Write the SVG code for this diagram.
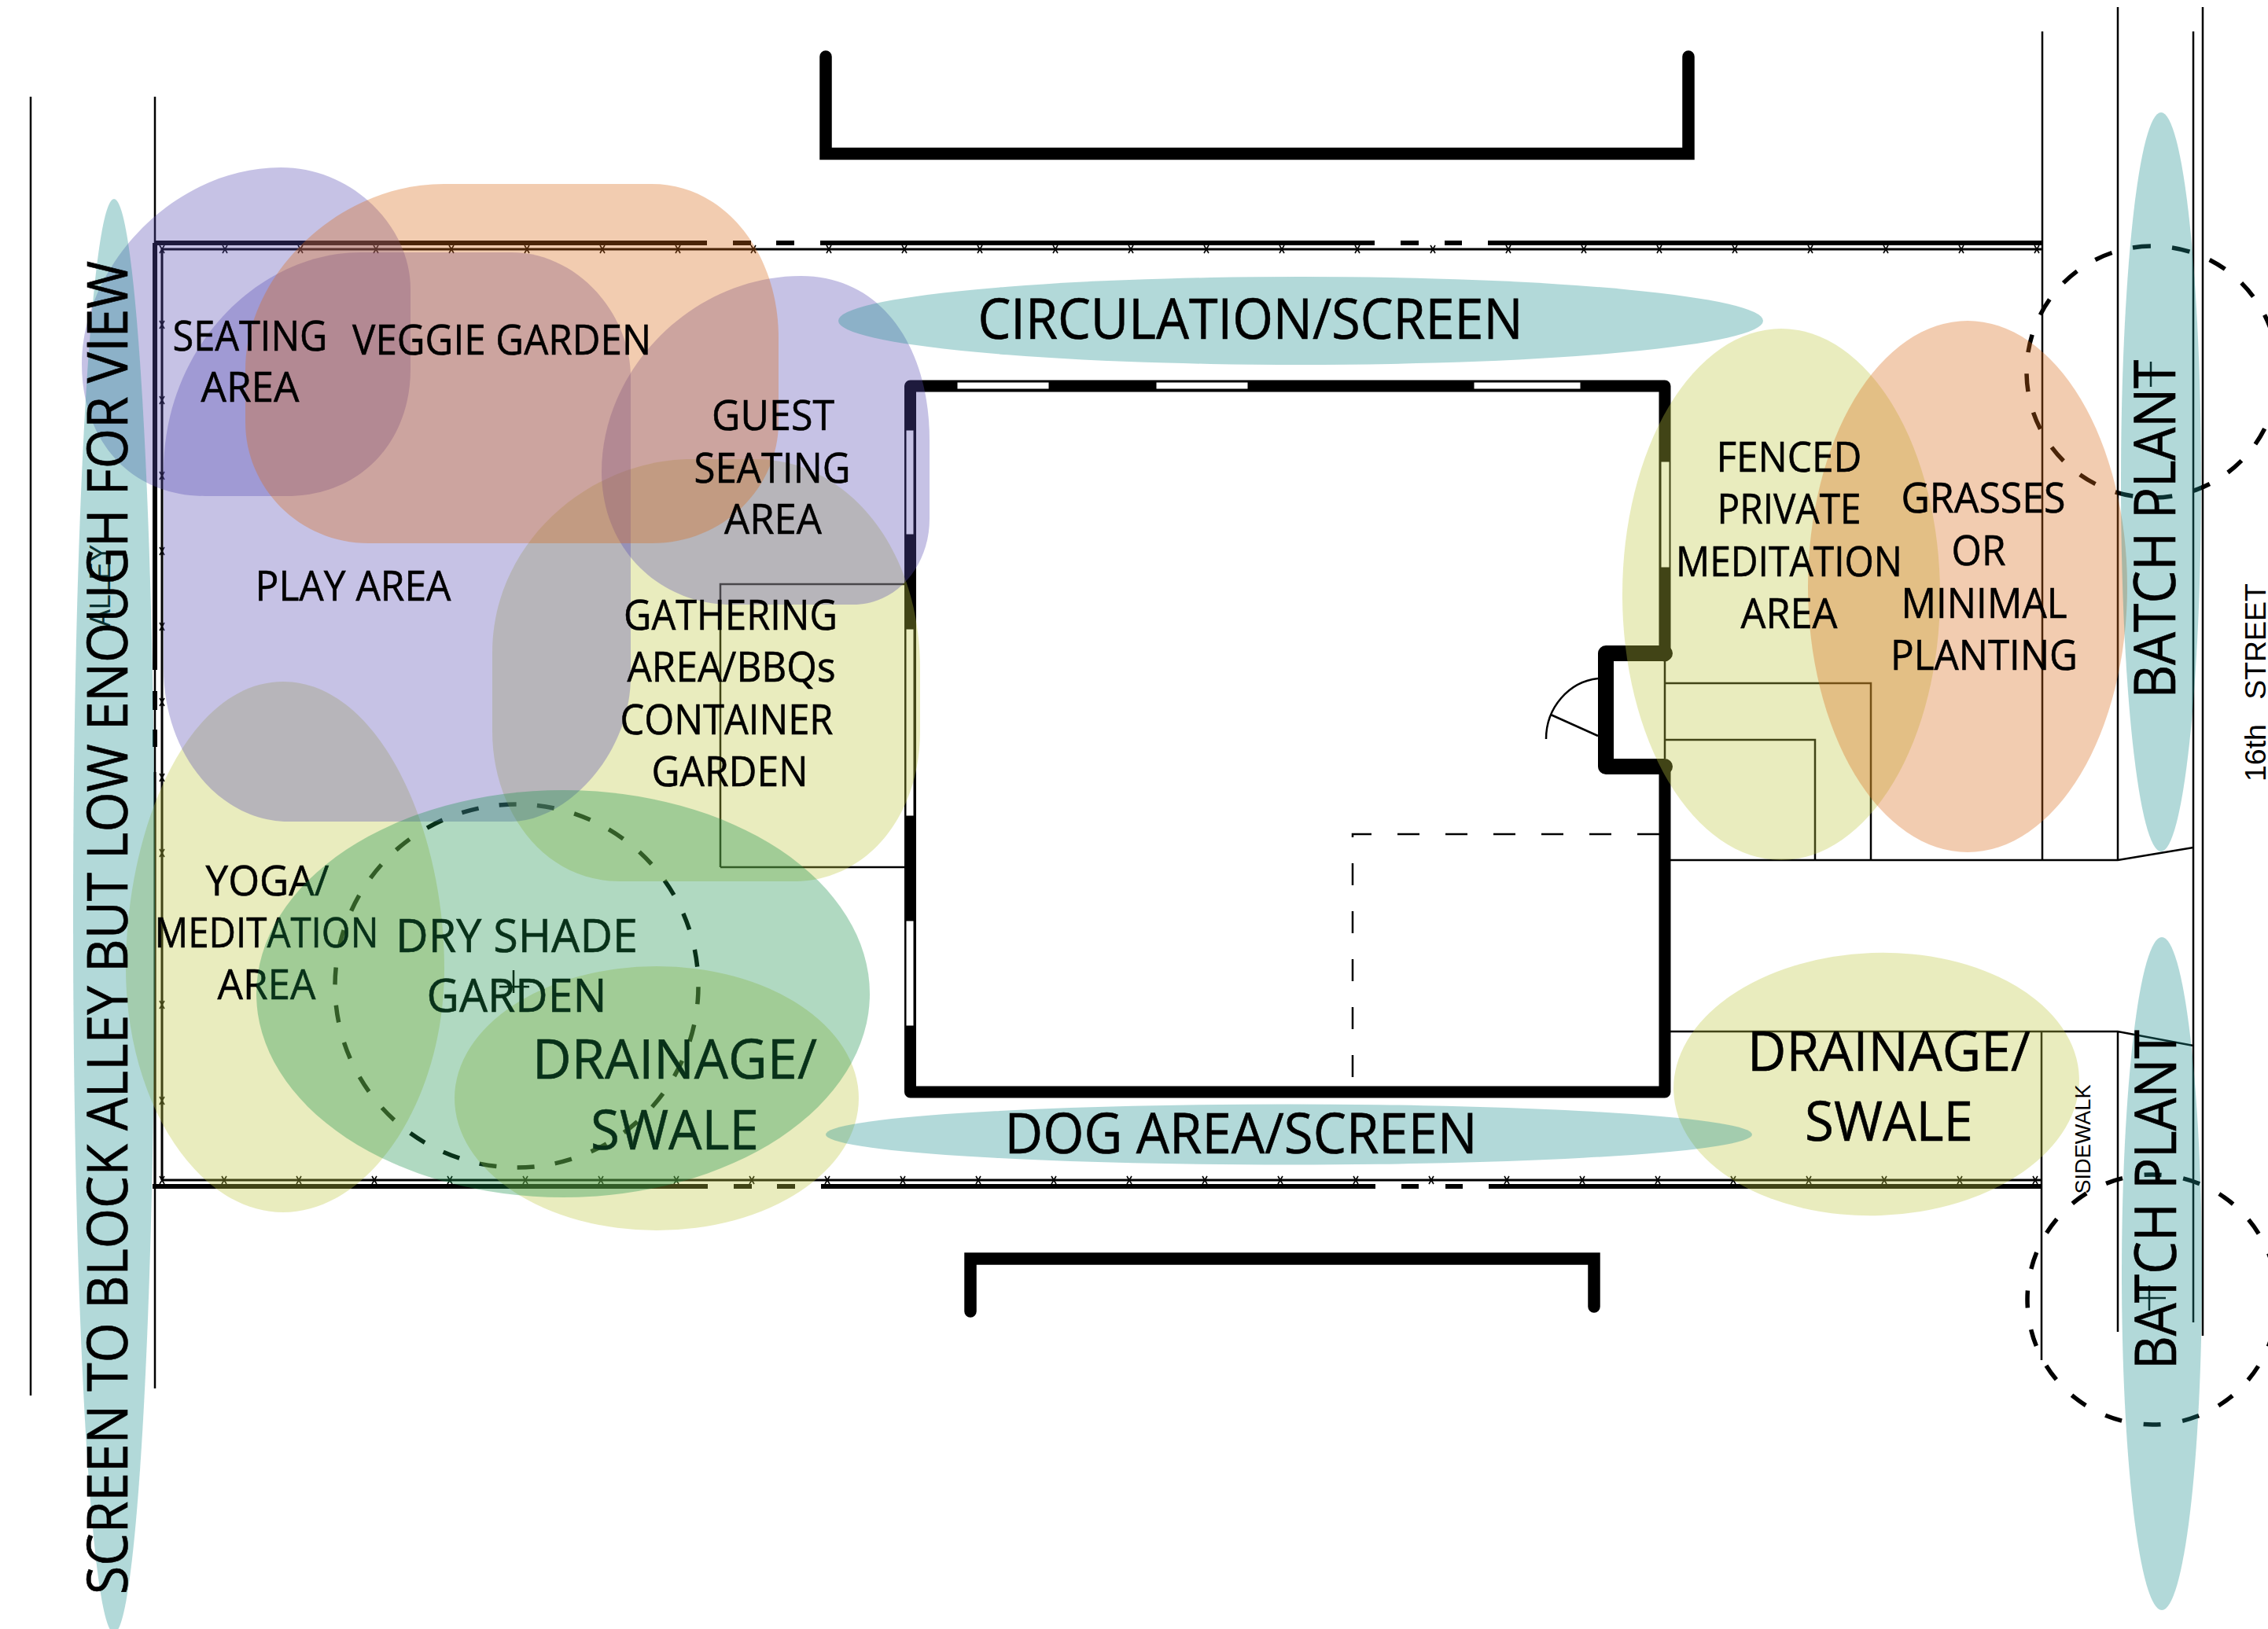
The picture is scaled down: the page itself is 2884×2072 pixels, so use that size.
<svg xmlns="http://www.w3.org/2000/svg" xmlns:xlink="http://www.w3.org/1999/xlink" width="2884" height="2072" viewBox="0 0 2884 2072">
<style>
.l{fill:none;stroke:#000;stroke-width:2.5}
.th{fill:none;stroke:#000;stroke-width:6}
.tn{fill:none;stroke:#000;stroke-width:3}
.wall{fill:none;stroke:#000;stroke-linecap:round;stroke-linejoin:round}
.br{fill:none;stroke:#000;stroke-linecap:round;stroke-linejoin:miter;stroke-width:15.500}
.win{fill:#fff;stroke:#000;stroke-width:1}
.d{fill:none;stroke:#000;stroke-width:5.500}
.tick{fill:none;stroke:#000;stroke-width:1.6}
.y{fill:#bfc841;opacity:.34}
.p{fill:#574bb4;opacity:.34}
.o{fill:#d96a17;opacity:.34}
.c{fill:#1c9090;opacity:.34}
.g{fill:#189049;opacity:.34}
text{font-family:"Open Sans","Noto Sans",sans-serif;fill:#000;text-anchor:middle;stroke:#000;stroke-width:.6}
.s{font-size:53px}.m{font-size:58px}.b{font-size:69px}.x{font-size:72px}
.a{font-family:"Liberation Sans",Arial,sans-serif;stroke:none}
</style>
<defs><path id="t" class="tick" d="M-3-5L3 5M3-5L-3 5"/></defs>
<rect width="2884" height="2072" fill="#fff"/>
<g id="site-lines">
<path class="l" d="M39 123V1775M197 123V1766M2597 40V1094M2693 9V1094M2789 40V1682M2801 9V1699"/>
<path class="l" d="M2124 1094H2693L2789 1078M2124 1312H2693L2789 1330M2596 1312V1730M2693 1312V1694"/>
<path class="l" d="M2117 869H2379V1094M2117 941H2308V1094M916 1103V743H1152M916 1103H1152"/>
<path class="l" d="M2032 936L1972 909M2032 863C1995 867 1966 900 1966 940"/>
<path class="l" stroke-dasharray="28 33" d="M2110 1061H1720V1381"/>
<path class="l" stroke-width="1.5" d="M2716 476H2754M2735 460V492M2716 1651H2754M2733 1635V1667M635 1255H673M653 1234V1263"/>
<text class="a" transform="translate(140 745) rotate(-90)" font-size="36" textLength="105" lengthAdjust="spacingAndGlyphs">ALLEY</text>
</g>
<g id="fence">
<path class="th" d="M197 309H899M932 309H955M987 309H1010M1043 309H1748M1781 309H1804M1837 309H1859M1892 309H2597"/>
<path class="th" d="M194 1509H900M933 1509H956M988 1509H1011M1044 1509H1749M1782 1509H1804M1838 1509H1860M1893 1509H2596"/>
<path class="th" d="M197 309V852M197 879V903M197 928V950"/>
<path class="tn" d="M197 982V1509"/>
<path class="tn" d="M206 1501V317H2597M206 1501H2596"/>
<g id="ticks-top">
<use href="#t" x="206" y="317"/><use href="#t" x="286" y="317"/><use href="#t" x="382" y="317"/><use href="#t" x="478" y="317"/><use href="#t" x="574" y="317"/><use href="#t" x="670" y="317"/><use href="#t" x="766" y="317"/><use href="#t" x="862" y="317"/><use href="#t" x="958" y="317"/><use href="#t" x="1054" y="317"/><use href="#t" x="1150" y="317"/><use href="#t" x="1246" y="317"/><use href="#t" x="1342" y="317"/><use href="#t" x="1438" y="317"/><use href="#t" x="1534" y="317"/><use href="#t" x="1630" y="317"/><use href="#t" x="1726" y="317"/><use href="#t" x="1822" y="317"/><use href="#t" x="1918" y="317"/><use href="#t" x="2014" y="317"/><use href="#t" x="2110" y="317"/><use href="#t" x="2206" y="317"/><use href="#t" x="2302" y="317"/><use href="#t" x="2398" y="317"/><use href="#t" x="2494" y="317"/><use href="#t" x="2590" y="317"/>
</g>
<g id="ticks-bottom">
<use href="#t" x="206" y="1501"/><use href="#t" x="285" y="1501"/><use href="#t" x="380" y="1501"/><use href="#t" x="476" y="1501"/><use href="#t" x="572" y="1501"/><use href="#t" x="668" y="1501"/><use href="#t" x="764" y="1501"/><use href="#t" x="860" y="1501"/><use href="#t" x="956" y="1501"/><use href="#t" x="1052" y="1501"/><use href="#t" x="1148" y="1501"/><use href="#t" x="1244" y="1501"/><use href="#t" x="1340" y="1501"/><use href="#t" x="1436" y="1501"/><use href="#t" x="1532" y="1501"/><use href="#t" x="1628" y="1501"/><use href="#t" x="1724" y="1501"/><use href="#t" x="1820" y="1501"/><use href="#t" x="1916" y="1501"/><use href="#t" x="2012" y="1501"/><use href="#t" x="2108" y="1501"/><use href="#t" x="2204" y="1501"/><use href="#t" x="2300" y="1501"/><use href="#t" x="2396" y="1501"/><use href="#t" x="2492" y="1501"/><use href="#t" x="2588" y="1501"/>
</g>
<g id="ticks-left">
<use href="#t" x="206" y="413"/><use href="#t" x="206" y="509"/><use href="#t" x="206" y="605"/><use href="#t" x="206" y="701"/><use href="#t" x="206" y="797"/><use href="#t" x="206" y="893"/><use href="#t" x="206" y="989"/><use href="#t" x="206" y="1085"/><use href="#t" x="206" y="1278"/><use href="#t" x="206" y="1400"/>
</g>
</g>
<g id="house">
<path class="wall" stroke-width="15" d="M2117 834V491H1157.500V1389H2117V975"/>
<path class="wall" stroke-width="20" d="M2117 831H2042V975H2117"/>
<path class="l" d="M2117 841V965"/>
<rect class="win" x="1217" y="486" width="117" height="9"/>
<rect class="win" x="1470" y="486" width="117" height="9"/>
<rect class="win" x="1874" y="486" width="136" height="9"/>
<rect class="win" x="1152" y="547" width="10" height="133"/>
<rect class="win" x="1152" y="800" width="10" height="238"/>
<rect class="win" x="1152" y="1171" width="10" height="134"/>
<rect class="win" x="2112" y="587" width="11" height="135"/>
</g>
<g id="neighbours">
<path class="br" d="M1050 72V195.500H2147V72"/>
<path class="br" d="M1234 1668V1601H2027V1662"/>
</g>
<g id="tree-canopies">
<ellipse class="d" cx="657" cy="1254" rx="231" ry="231" stroke-dasharray="22 26.380" stroke-dashoffset="47"/>
<circle class="d" cx="2737" cy="473" r="160" stroke-dasharray="23 27.270" stroke-dashoffset="25.500"/>
<circle class="d" cx="2737" cy="1653" r="159" stroke-dasharray="22 27.950" stroke-dashoffset="10.700"/>
</g>
<g id="zones-yellow">
<path id="zone-gathering" class="y" d="M880 584L960 584C1080 584 1170 700 1170 850L1170 930C1170 1040 1100 1121 1010 1121L788 1121C690 1121 626 1030 626 930L626 830C626 690 750 584 880 584Z"/>
<path id="zone-yoga" class="y" d="M360 867C480 867 565 1050 565 1232C565 1400 470 1542 360 1542C250 1542 160 1400 160 1232C160 1050 240 867 360 867Z"/>
<ellipse id="zone-drainage-left" class="y" cx="835" cy="1397" rx="257" ry="168"/>
<ellipse id="zone-meditation" class="y" cx="2265" cy="756" rx="202" ry="338"/>
<ellipse id="zone-drainage-right" class="y" cx="2386" cy="1379" rx="258" ry="167" transform="rotate(-2 2386 1379)"/>
</g>
<g id="zones-purple">
<path id="zone-seating" class="p" d="M357 213C450 213 522 290 522 367L522 470C522 560 460 631 364 631L261 631C165 631 104 560 104 463C104 340 220 213 357 213Z"/>
<path id="zone-play" class="p" d="M459 321L650 321C735 321 802 400 802 480L802 860C802 960 720 1045 650 1045L367 1045C280 1045 208 960 208 850L208 600C208 440 330 321 459 321Z"/>
<path id="zone-guest" class="p" d="M1019 351C1120 351 1182 440 1182 560L1182 660C1182 720 1140 769 1085 769L930 769C840 769 765 700 765 600C765 470 880 351 1019 351Z"/>
</g>
<g id="zones-orange">
<path id="zone-veggie" class="o" d="M564 234L829 234C920 234 990 320 990 430L990 537C990 620 920 691 829 691L469 691C380 691 312 620 312 537L312 470C312 350 430 234 564 234Z"/>
<ellipse id="zone-grasses" class="o" cx="2502" cy="746" rx="203" ry="338"/>
</g>
<g id="zones-teal">
<ellipse id="zone-alley-screen" class="c" cx="145" cy="1165" rx="52" ry="912"/>
<ellipse id="zone-circulation" class="c" cx="1654" cy="408" rx="588" ry="56"/>
<ellipse id="zone-dog" class="c" cx="1639" cy="1443" rx="589" ry="38.500"/>
<ellipse id="zone-batch-upper" class="c" cx="2748" cy="613" rx="51" ry="470"/>
<ellipse id="zone-batch-lower" class="c" cx="2749" cy="1620" rx="51" ry="428"/>
</g>
<g id="labels-under-green">
<text class="s" x="340" y="1139" textLength="157" lengthAdjust="spacingAndGlyphs">YOGA/</text>
<text class="s" x="339" y="1205" textLength="285" lengthAdjust="spacingAndGlyphs">MEDITATION</text>
<text class="s" x="339" y="1271" textLength="125" lengthAdjust="spacingAndGlyphs">AREA</text>
<text class="m" x="657" y="1211" textLength="308" lengthAdjust="spacingAndGlyphs">DRY SHADE</text>
<text class="m" x="657" y="1287" textLength="229" lengthAdjust="spacingAndGlyphs">GARDEN</text>
<text class="b" x="858" y="1372" textLength="362" lengthAdjust="spacingAndGlyphs">DRAINAGE/</text>
<text class="b" x="858" y="1462" textLength="214" lengthAdjust="spacingAndGlyphs">SWALE</text>
</g>
<ellipse id="zone-dry-shade" class="g" cx="716" cy="1264" rx="390" ry="259"/>
<g id="labels">
<text class="s" x="318" y="446" textLength="197" lengthAdjust="spacingAndGlyphs">SEATING</text>
<text class="s" x="318" y="511" textLength="125" lengthAdjust="spacingAndGlyphs">AREA</text>
<text class="s" x="638" y="451" textLength="380" lengthAdjust="spacingAndGlyphs">VEGGIE GARDEN</text>
<text class="s" x="449" y="764" textLength="249" lengthAdjust="spacingAndGlyphs">PLAY AREA</text>
<text class="s" x="983" y="547" textLength="156" lengthAdjust="spacingAndGlyphs">GUEST</text>
<text class="s" x="982" y="614" textLength="199" lengthAdjust="spacingAndGlyphs">SEATING</text>
<text class="s" x="983" y="679" textLength="124" lengthAdjust="spacingAndGlyphs">AREA</text>
<text class="s" x="929" y="801" textLength="272" lengthAdjust="spacingAndGlyphs">GATHERING</text>
<text class="s" x="930" y="867" textLength="265" lengthAdjust="spacingAndGlyphs">AREA/BBQs</text>
<text class="s" x="924" y="934" textLength="271" lengthAdjust="spacingAndGlyphs">CONTAINER</text>
<text class="s" x="928" y="1000" textLength="199" lengthAdjust="spacingAndGlyphs">GARDEN</text>
<text class="s" x="2275" y="600" textLength="185" lengthAdjust="spacingAndGlyphs">FENCED</text>
<text class="s" x="2275" y="666" textLength="183" lengthAdjust="spacingAndGlyphs">PRIVATE</text>
<text class="s" x="2275" y="733" textLength="288" lengthAdjust="spacingAndGlyphs">MEDITATION</text>
<text class="s" x="2275" y="799" textLength="123" lengthAdjust="spacingAndGlyphs">AREA</text>
<text class="s" x="2522" y="652" textLength="209" lengthAdjust="spacingAndGlyphs">GRASSES</text>
<text class="s" x="2516" y="719" textLength="69" lengthAdjust="spacingAndGlyphs">OR</text>
<text class="s" x="2523" y="786" textLength="211" lengthAdjust="spacingAndGlyphs">MINIMAL</text>
<text class="s" x="2523" y="852" textLength="238" lengthAdjust="spacingAndGlyphs">PLANTING</text>
<text class="x" style="font-size:71px" x="1590" y="431" textLength="693" lengthAdjust="spacingAndGlyphs">CIRCULATION/SCREEN</text>
<text class="x" style="font-size:71px" x="1578" y="1467" textLength="601" lengthAdjust="spacingAndGlyphs">DOG AREA/SCREEN</text>
<text class="b" x="2402" y="1362" textLength="360" lengthAdjust="spacingAndGlyphs">DRAINAGE/</text>
<text class="b" x="2402" y="1451" textLength="214" lengthAdjust="spacingAndGlyphs">SWALE</text>
<text class="x" transform="translate(162 1180) rotate(-90)" textLength="1696" lengthAdjust="spacingAndGlyphs">SCREEN TO BLOCK ALLEY BUT LOW ENOUGH FOR VIEW</text>
<text class="x" style="font-size:73px" transform="translate(2766 673) rotate(-90)" textLength="431" lengthAdjust="spacingAndGlyphs">BATCH PLANT</text>
<text class="x" style="font-size:73px" transform="translate(2767 1526) rotate(-90)" textLength="432" lengthAdjust="spacingAndGlyphs">BATCH PLANT</text>
<text class="a" transform="translate(2658 1449) rotate(-90)" font-size="28" textLength="139" lengthAdjust="spacingAndGlyphs">SIDEWALK</text>
<text class="a" transform="translate(2881 868) rotate(-90)" font-size="36" textLength="252" lengthAdjust="spacingAndGlyphs" style="white-space:pre">16th   STREET</text>
</g>
</svg>
